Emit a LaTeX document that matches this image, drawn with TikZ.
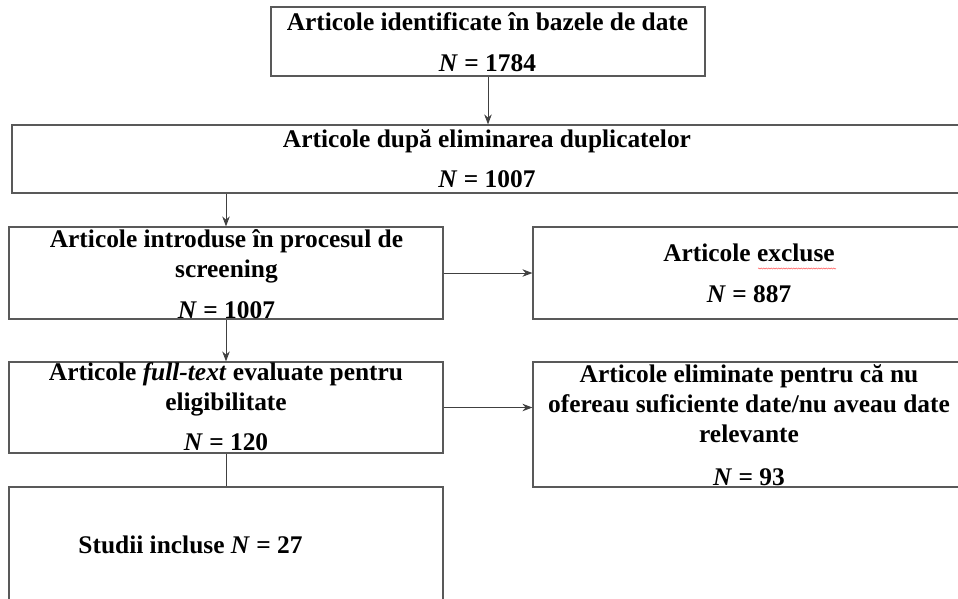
\documentclass[tikz,border=0pt]{standalone}
\usepackage{fontspec}
\setmainfont{Liberation Serif}
\usetikzlibrary{arrows.meta,decorations.pathmorphing}

\newcommand{\lines}[1]{\begin{tabular}[t]{@{}c@{}}#1\end{tabular}}

\begin{document}
\begin{tikzpicture}[x=1pt,y=-1pt,
    box/.style={draw=black!65, line width=1.2pt, inner sep=0pt},
    txt/.style={font=\fontsize{25.4}{30}\selectfont\bfseries, anchor=base, inner sep=0pt},
    arr/.style={-{Stealth[length=10pt,width=7.5pt]}, draw=black!75, line width=0.9pt}]
      \useasboundingbox (0,0) rectangle (958,598);

      % boxes
      \node[box, minimum width=434pt, minimum height=69pt] (ident) at (488, 41.5) {};
      \node[box, minimum width=950pt, minimum height=68pt] (dupl) at (487, 159) {};
      \node[box, minimum width=434pt, minimum height=92pt] (scr) at (226, 273) {};
      \node[box, minimum width=432pt, minimum height=92pt] (excl) at (749, 273) {};
      \node[box, minimum width=434pt, minimum height=91pt] (full) at (226, 407.5) {};
      \node[box, minimum width=432pt, minimum height=125pt] (elim) at (749, 424.5) {};
      \node[box, minimum width=434pt, minimum height=153pt] (incl) at (226, 563.5) {};

      % texts
      \node[txt] (identtxt) at (487.5, 30) {\lines{Articole identificate în bazele de date\\[11pt] \textit{N} = 1784}};
      \node[txt] (dupltxt) at (487, 147.5) {\lines{Articole după eliminarea duplicatelor\\[10pt] \textit{N} = 1007}};
      \node[txt] (scrtxt) at (226.5, 247) {\lines{Articole introduse în procesul de\\ screening\\[11pt] \textit{N} = 1007}};
      \node[txt] (excltxt) at (749, 261) {\lines{Articole excluse\\[11pt] \textit{N} = 887}};
      \node[txt] (fulltxt) at (226, 380) {\lines{Articole \textit{full-text} evaluate pentru\\ eligibilitate\\[10pt] \textit{N} = 120}};
      \node[txt] (elimtxt) at (749, 382) {\lines{Articole eliminate pentru că nu\\ ofereau suficiente date/nu aveau date\\ relevante\\[13pt] \textit{N} = 93}};
      \node[txt] (incltxt) at (190.5, 553.3) {Studii incluse \textit{N} = 27};

      % spell-check mark under "excluse"
      \draw[red!80, line width=0.4pt, decorate,
        decoration={snake, amplitude=0.6pt, segment length=2.5pt}] (758, 268.5) -- (836, 268.5);

      % connectors
      \draw[arr] (ident) -- (ident |- dupl.north);
      \draw[arr] (scr |- dupl.south) -- (scr.north);
      \draw[arr] (scr) -- (excl);
      \draw[arr] (scr) -- (full);
      \draw[arr] (full.east) -- (full.east -| elim.west);
      \draw[draw=black!75, line width=0.9pt] (full) -- (incl);
    \end{tikzpicture}
\end{document}
